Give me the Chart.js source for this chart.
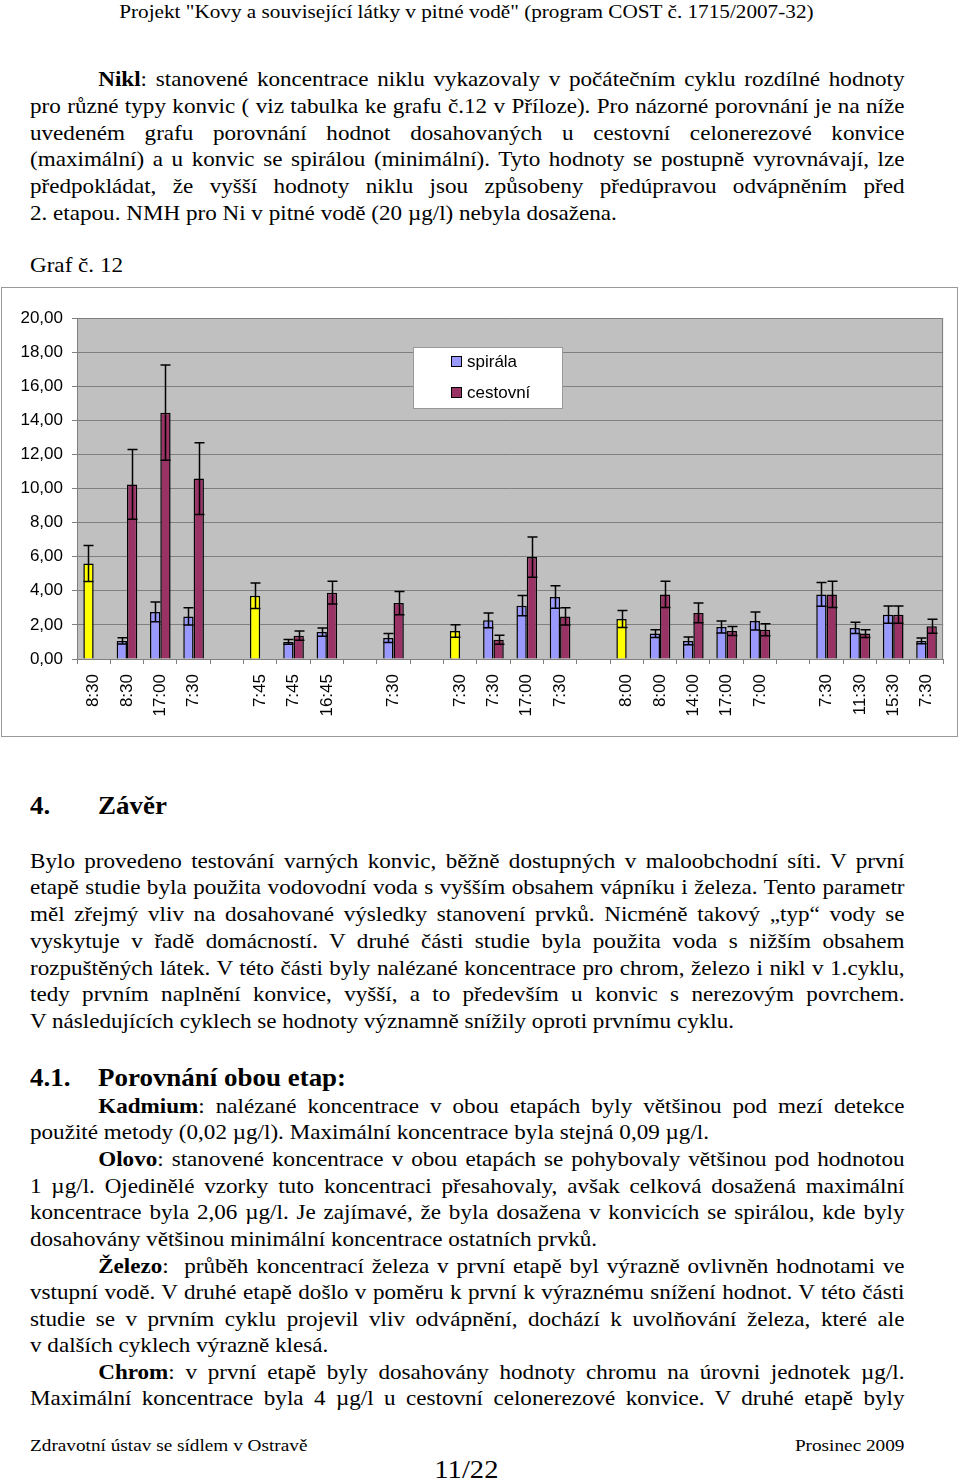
<!DOCTYPE html>
<html>
<head>
<meta charset="utf-8">
<script src="https://cdn.jsdelivr.net/npm/chart.js@4/dist/chart.umd.min.js"></script>
<style>
body{margin:0;background:#fff;}
#page{position:relative;width:960px;height:1483px;font-family:"Liberation Serif","Times New Roman",serif;font-size:21px;color:#000;overflow:hidden}
.ln{position:absolute;left:30px;width:795px;white-space:nowrap;line-height:26px;text-align:justify;text-align-last:justify;box-sizing:border-box;transform:scaleX(1.1);transform-origin:0 0}
.last{text-align-last:left}
.ind{padding-left:62px}
.mid{left:0;width:848px;text-align:center;text-align-last:center}
.hd{position:absolute;font-weight:bold;font-size:24.5px;line-height:30px;white-space:nowrap;transform:scaleX(1.1);transform-origin:0 0}
#chartBox{position:absolute;left:1px;top:287px;width:955px;height:448px;border:1px solid #999}
</style>
</head>
<body>
<div id="page">
  <div class="ln mid" style="top:-1px;font-size:19.3px">Projekt "Kovy a související látky v pitné vodě" (program COST č. 1715/2007-32)</div>

  <div class="ln ind" style="top:66px"><b>Nikl</b>: stanovené koncentrace niklu vykazovaly v počátečním cyklu rozdílné hodnoty</div>
  <div class="ln" style="top:93px">pro různé typy konvic ( viz tabulka ke grafu č.12 v Příloze). Pro názorné porovnání je na níže</div>
  <div class="ln" style="top:120px">uvedeném grafu porovnání hodnot dosahovaných u cestovní celonerezové konvice</div>
  <div class="ln" style="top:146px">(maximální) a u konvic se spirálou (minimální). Tyto hodnoty se postupně vyrovnávají, lze</div>
  <div class="ln" style="top:173px">předpokládat, že vyšší hodnoty niklu jsou způsobeny předúpravou odvápněním před</div>
  <div class="ln last" style="top:200px">2. etapou. NMH pro Ni v pitné vodě (20 µg/l) nebyla dosažena.</div>

  <div class="ln last" style="top:252px">Graf č. 12</div>

  <div id="chartBox"><canvas id="graf"></canvas></div>

  <div class="hd" style="left:30px;top:791px">4.</div>
  <div class="hd" style="left:98px;top:791px">Závěr</div>

  <div class="ln" style="top:848px">Bylo provedeno testování varných konvic, běžně dostupných v maloobchodní síti. V první</div>
  <div class="ln" style="top:874px">etapě studie byla použita vodovodní voda s vyšším obsahem vápníku i železa. Tento parametr</div>
  <div class="ln" style="top:901px">měl zřejmý vliv na dosahované výsledky stanovení prvků. Nicméně takový „typ“ vody se</div>
  <div class="ln" style="top:928px">vyskytuje v řadě domácností. V druhé části studie byla použita voda s nižším obsahem</div>
  <div class="ln" style="top:955px">rozpuštěných látek. V této části byly nalézané koncentrace pro chrom, železo i nikl v 1.cyklu,</div>
  <div class="ln" style="top:981px">tedy prvním naplnění konvice, vyšší, a to především u konvic s nerezovým povrchem.</div>
  <div class="ln last" style="top:1008px">V následujících cyklech se hodnoty významně snížily oproti prvnímu cyklu.</div>

  <div class="hd" style="left:30px;top:1063px">4.1.</div>
  <div class="hd" style="left:98px;top:1063px">Porovnání obou etap:</div>

  <div class="ln ind" style="top:1093px"><b>Kadmium</b>: nalézané koncentrace v obou etapách byly většinou pod mezí detekce</div>
  <div class="ln last" style="top:1119px">použité metody (0,02 µg/l). Maximální koncentrace byla stejná 0,09 µg/l.</div>
  <div class="ln ind" style="top:1146px"><b>Olovo</b>: stanovené koncentrace v obou etapách se pohybovaly většinou pod hodnotou</div>
  <div class="ln" style="top:1173px">1 µg/l. Ojedinělé vzorky tuto koncentraci přesahovaly, avšak celková dosažená maximální</div>
  <div class="ln" style="top:1199px">koncentrace byla 2,06 µg/l. Je zajímavé, že byla dosažena v konvicích se spirálou, kde byly</div>
  <div class="ln last" style="top:1226px">dosahovány většinou minimální koncentrace ostatních prvků.</div>
  <div class="ln ind" style="top:1253px"><b>Železo</b>:&nbsp; průběh koncentrací železa v první etapě byl výrazně ovlivněn hodnotami ve</div>
  <div class="ln" style="top:1279px">vstupní vodě. V druhé etapě došlo v poměru k první k výraznému snížení hodnot. V této části</div>
  <div class="ln" style="top:1306px">studie se v prvním cyklu projevil vliv odvápnění, dochází k uvolňování železa, které ale</div>
  <div class="ln last" style="top:1332px">v dalších cyklech výrazně klesá.</div>
  <div class="ln ind" style="top:1359px"><b>Chrom</b>: v první etapě byly dosahovány hodnoty chromu na úrovni jednotek µg/l.</div>
  <div class="ln" style="top:1385px">Maximální koncentrace byla 4 µg/l u cestovní celonerezové konvice. V druhé etapě byly</div>

  <div class="ln last" style="top:1432px;font-size:17.5px">Zdravotní ústav se sídlem v Ostravě</div>
  <div class="ln last" style="top:1432px;font-size:17.5px;text-align:right;text-align-last:right">Prosinec 2009</div>
  <div class="ln mid" style="top:1457px;font-size:26px">11/22</div>
</div>

<script>
// kategorie (cas odberu), prazdne = mezera mezi dny
const kategorie = ['8:30','8:30','17:00','7:30','','7:45','7:45','16:45','','7:30','','7:30','7:30','17:00','7:30','','8:00','8:00','14:00','17:00','7:00','','7:30','11:30','15:30','7:30'];

const spirala    = [5.60,1.06,2.76,2.50,null,3.71,1.00,1.58,null,1.23,null,1.64,2.27,3.13,3.64,null,2.35,1.49,1.06,1.88,2.23,null,3.79,1.82,2.60,1.06];
const spiralaErr = [1.05,0.18,0.58,0.50,null,0.75,0.14,0.24,null,0.26,null,0.37,0.43,0.60,0.66,null,0.50,0.23,0.23,0.35,0.53,null,0.69,0.33,0.51,0.17];

const cestovni    = [null,10.24,14.45,10.58,null,null,1.37,3.89,null,3.28,null,null,1.13,5.98,2.50,null,null,3.79,2.70,1.64,1.72,null,3.79,1.49,2.60,1.92];
const cestovniErr = [null,2.05,2.80,2.10,null,null,0.27,0.67,null,0.68,null,null,0.26,1.18,0.51,null,null,0.77,0.58,0.26,0.35,null,0.77,0.23,0.51,0.41];

// body zvyraznene zlute (vstupni voda)
const zluteBody = [0,5,11,16];

const yTicks = [0,2,4,6,8,10,12,14,16,18,20];

const modra = '#9999ff', vinova = '#993366', zluta = '#ffff00';

// pozadi plochy grafu + legenda
const pozadi = {
    id: 'pozadi',
    beforeDraw(c) {
        const a = c.chartArea, ctx = c.ctx;
        ctx.save();
        ctx.fillStyle = '#c0c0c0';
        ctx.fillRect(a.left, a.top, a.right - a.left, a.bottom - a.top);
        ctx.restore();
    },
    afterDraw(c) {
        const a = c.chartArea, ctx = c.ctx;
        ctx.save();
        ctx.strokeStyle = '#808080'; ctx.lineWidth = 1;
        ctx.beginPath();
        ctx.moveTo(Math.round(a.right) - .5, a.top); ctx.lineTo(Math.round(a.right) - .5, a.bottom);
        ctx.stroke();

        // legenda uvnitr grafu
        const lx = 411, ly = 59, lw = 150, lh = 62;
        ctx.fillStyle = '#fff';
        ctx.fillRect(lx, ly, lw, lh);
        ctx.strokeStyle = '#999';
        ctx.strokeRect(lx + .5, ly + .5, lw - 1, lh - 1);
        const polozky = [['spirála', modra], ['cestovní', vinova]];
        ctx.font = '17px "Liberation Sans", Arial, sans-serif';
        ctx.textBaseline = 'middle';
        polozky.forEach((p, i) => {
            const y = ly + 14 + i * 31;
            ctx.fillStyle = p[1];
            ctx.fillRect(lx + 38, y - 5, 11, 11);
            ctx.strokeStyle = '#000'; ctx.lineWidth = 1;
            ctx.strokeRect(lx + 38.5, y - 4.5, 10, 10);
            ctx.fillStyle = '#000';
            ctx.fillText(p[0], lx + 54, y + 1);
        });
        ctx.restore();
    }
};

// chybove usecky
const chyby = {
    id: 'chyby',
    afterDatasetsDraw(c) {
        const ctx = c.ctx, ys = c.scales.y;
        const errs = [spiralaErr, cestovniErr];
        ctx.save();
        ctx.strokeStyle = '#000'; ctx.lineWidth = 1.5;
        c.data.datasets.forEach((ds, i) => {
            c.getDatasetMeta(i).data.forEach((el, j) => {
                const v = ds.data[j], e = errs[i][j];
                if (v == null || e == null) return;
                const x = Math.round(el.x) + .5;
                const yt = ys.getPixelForValue(v + e), yb = ys.getPixelForValue(v - e);
                ctx.beginPath();
                ctx.moveTo(x, yt); ctx.lineTo(x, yb);
                ctx.moveTo(x - 5, yt); ctx.lineTo(x + 5, yt);
                ctx.moveTo(x - 5, yb); ctx.lineTo(x + 5, yb);
                ctx.stroke();
            });
        });
        ctx.restore();
    }
};

const pismo = { family: '"Liberation Sans", Arial, sans-serif', size: 17 };

new Chart(document.getElementById('graf'), {
    type: 'bar',
    data: {
        labels: kategorie,
        datasets: [
            { label: 'spirála', data: spirala, backgroundColor: kategorie.map((k, i) => zluteBody.includes(i) ? zluta : modra),
              borderColor: '#000', borderWidth: 1.5, categoryPercentage: 0.62, barPercentage: 1 },
            { label: 'cestovní', data: cestovni, backgroundColor: vinova,
              borderColor: '#000', borderWidth: 1.5, categoryPercentage: 0.62, barPercentage: 1 }
        ]
    },
    options: {
        responsive: true, maintainAspectRatio: false, animation: false,
        layout: { padding: { top: 30, right: 4, left: 0, bottom: 0 } },
        plugins: { legend: { display: false }, tooltip: { enabled: false } },
        scales: {
            x: {
                ticks: { color: '#000', font: pismo, maxRotation: 90, minRotation: 90, padding: 10, autoSkip: false },
                grid: { drawOnChartArea: false, drawTicks: true, tickLength: 5, color: '#808080', offset: true },
                border: { color: '#808080' },
                afterFit: s => { s.height = 77; }
            },
            y: {
                min: 0, max: 20,
                afterBuildTicks: s => { s.ticks = yTicks.map(v => ({ value: v })); },
                ticks: { color: '#000', font: pismo, padding: 9, callback: v => v.toFixed(2).replace('.', ',') },
                grid: { color: '#808080', tickLength: 5 },
                border: { color: '#808080' },
                afterFit: s => { s.width = 75; }
            }
        }
    },
    plugins: [pozadi, chyby]
});
</script>
</body>
</html>
